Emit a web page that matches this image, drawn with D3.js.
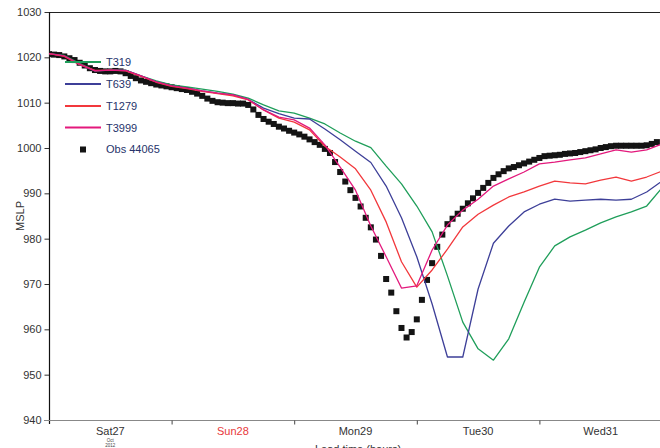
<!DOCTYPE html>
<html><head><meta charset="utf-8">
<script src="https://cdn.jsdelivr.net/npm/d3@7"></script>
<style>body{margin:0;background:#fff}svg{display:block;font-family:"Liberation Sans",Arial,sans-serif}</style>
</head><body><svg width="660" height="448"></svg>
<script>
// ---- data ----
const dayLabels = ["Sat27", "Sun28", "Mon29", "Tue30", "Wed31"];
const dayStartHours = [0, 24, 48, 72, 96, 120];
const yTicks = [940, 950, 960, 970, 980, 990, 1000, 1010, 1020, 1030];
const modelHours = [0,3,6,9,12,15,18,21,24,27,30,33,36,39,42,45,48,51,54,57,60,63,66,69,72,75,78,81,84,87,90,93,96,99,102,105,108,111,114,117,120];
const t319 = [1020.8,1020.4,1018.7,1017.0,1017.2,1017.2,1015.9,1014.8,1013.9,1013.5,1013.0,1012.5,1011.9,1011.0,1009.5,1008.2,1007.7,1006.6,1005.3,1003.3,1001.5,1000.1,996.0,992.1,987.2,981.5,971.8,961.6,955.7,953.2,957.9,966.0,973.7,978.4,980.4,981.9,983.5,984.8,985.9,987.2,991.2];
const t639 = [1020.8,1020.3,1018.4,1017.0,1017.2,1017.1,1015.9,1014.6,1013.7,1013.2,1012.6,1012.1,1011.7,1010.7,1008.8,1007.6,1006.6,1006.4,1004.2,1001.8,999.3,996.8,991.6,984.6,976.0,965.6,953.9,953.9,968.9,979.0,982.8,985.9,987.6,988.7,988.3,988.5,988.7,988.5,988.7,990.3,992.7];
const t1279 = [1020.8,1020.2,1018.4,1017.1,1017.2,1017.0,1015.8,1014.5,1013.6,1013.1,1012.5,1012.0,1011.5,1010.6,1008.4,1006.6,1005.7,1004.0,1000.4,998.0,995.4,990.7,983.7,974.9,969.3,973.1,977.7,982.6,985.4,987.4,989.2,990.3,991.6,992.7,992.3,992.1,992.9,993.6,992.7,993.6,994.9];
const t3999 = [1020.8,1020.3,1018.5,1017.0,1017.2,1017.1,1015.9,1014.6,1013.7,1013.2,1012.6,1012.1,1011.7,1010.7,1008.4,1006.8,1006.2,1004.4,1000.7,995.8,990.7,982.8,976.0,969.1,969.6,977.5,983.0,986.3,988.7,991.6,993.2,994.7,996.5,996.9,997.4,997.8,998.7,999.6,999.1,999.6,1000.9];
const obsHours = d3.range(0, 120);
const obs44065 = [1020.7,1020.6,1020.5,1020.2,1019.8,1019.4,1018.8,1018.2,1017.6,1017.2,
1017.0,1016.9,1016.9,1017.0,1016.9,1016.5,1015.9,1015.4,1014.9,1014.6,
1014.3,1014.0,1013.8,1013.6,1013.4,1013.2,1013.0,1012.8,1012.4,1012.0,
1011.5,1010.9,1010.4,1010.1,1010.0,1009.9,1009.9,1009.8,1009.8,1009.5,
1008.5,1007.3,1006.4,1005.8,1005.3,1004.7,1004.3,1003.8,1003.4,1003.0,
1002.5,1001.9,1001.3,1000.7,999.8,998.9,996.9,994.7,992.6,990.7,
989.0,987.1,984.6,982.5,979.8,976.2,971.1,968.1,964.0,960.3,
958.2,959.4,962.2,966.5,970.9,974.6,978.2,980.9,983.2,984.4,
985.5,986.6,987.8,988.9,990.1,991.2,992.3,993.4,994.2,994.9,
995.5,995.8,996.2,996.6,997.0,997.4,997.8,998.2,998.3,998.4,
998.5,998.7,998.8,998.9,999.1,999.3,999.5,999.7,1000.0,1000.2,
1000.4,1000.5,1000.5,1000.5,1000.5,1000.5,1000.5,1000.6,1000.9,1001.3];
const seriesNames = ["T319", "T639", "T1279", "T3999"];
const seriesColors = ["#1f9e5a", "#3d3f98", "#f2383c", "#e3197c"];
const obsName = "Obs 44065";

// ---- chart ----
const svg = d3.select("svg");
const x = d3.scaleLinear().domain([0, 120]).range([49, 662]);
const y = d3.scaleLinear().domain([940, 1030]).range([420, 12]);

svg.append("defs").append("clipPath").attr("id", "clip")
  .append("rect").attr("x", 49).attr("y", 12).attr("width", 611).attr("height", 408);

// top frame line
svg.append("line").attr("x1", 49).attr("x2", 660).attr("y1", 12.5).attr("y2", 12.5)
  .attr("stroke", "#222").attr("stroke-width", 1);

// y axis
const yAxis = svg.append("g").attr("transform", "translate(49.5,0)")
  .call(d3.axisLeft(y).tickValues(yTicks).tickSize(5).tickPadding(3).tickFormat(d3.format("d")));
yAxis.select(".domain").remove();
yAxis.selectAll(".tick line").attr("stroke", "#333");
yAxis.selectAll(".tick text").attr("fill", "#333").attr("font-size", 11)
  .attr("font-family", "Liberation Sans, Arial, sans-serif");
svg.append("line").attr("x1", 49.5).attr("x2", 49.5).attr("y1", 12).attr("y2", 424)
  .attr("stroke", "#111").attr("stroke-width", 1.2);

// x axis
svg.append("line").attr("x1", 44).attr("x2", 660).attr("y1", 420.5).attr("y2", 420.5)
  .attr("stroke", "#888").attr("stroke-width", 1);
const xAxis = svg.append("g").attr("transform", "translate(0,420.5)")
  .call(d3.axisBottom(x).tickValues(dayStartHours.slice(1, 5)).tickSize(4).tickFormat(""));
xAxis.select(".domain").remove();
xAxis.selectAll(".tick line").attr("stroke", "#444");

svg.append("g").selectAll("text").data(dayLabels).join("text")
  .attr("x", (d, i) => x(dayStartHours[i] + 12))
  .attr("y", 434.5)
  .attr("text-anchor", "middle")
  .attr("font-size", 11)
  .attr("fill", (d, i) => i === 1 ? "#e8383a" : "#333")
  .text(d => d);
svg.append("text").attr("x", x(12)).attr("y", 441.5).attr("text-anchor", "middle")
  .attr("font-size", 4.5).attr("fill", "#444").text("Oct");
svg.append("text").attr("x", x(12)).attr("y", 446.5).attr("text-anchor", "middle")
  .attr("font-size", 4.5).attr("fill", "#444").text("2012");
svg.append("text").attr("x", 358).attr("y", 453).attr("text-anchor", "middle")
  .attr("font-size", 11).attr("fill", "#333").text("Lead time (hours)");
svg.append("text").attr("transform", "translate(24,216) rotate(-90)")
  .attr("text-anchor", "middle").attr("font-size", 11).attr("fill", "#333").text("MSLP");

// obs
const plot = svg.append("g").attr("clip-path", "url(#clip)");
plot.append("g").selectAll("rect").data(obs44065).join("rect")
  .attr("x", (d, i) => x(obsHours[i]) - 3)
  .attr("y", d => y(d) - 3)
  .attr("width", 6).attr("height", 6)
  .attr("fill", "#141414");

// models
const allSeries = [t319, t639, t1279, t3999];
const line = d3.line().x((d, i) => x(modelHours[i])).y(d => y(d));
plot.append("g").selectAll("path").data(allSeries).join("path")
  .attr("d", d => line(d))
  .attr("fill", "none")
  .attr("stroke", (d, i) => seriesColors[i])
  .attr("stroke-width", 1.3)
  .attr("stroke-linejoin", "round");

// legend
const legendY = [62, 84, 106, 127.5];
const lg = svg.append("g");
seriesNames.forEach((n, i) => {
  lg.append("line").attr("x1", 65).attr("x2", 101).attr("y1", legendY[i]).attr("y2", legendY[i])
    .attr("stroke", seriesColors[i]).attr("stroke-width", 2);
  lg.append("text").attr("x", 106).attr("y", legendY[i] + 4).attr("font-size", 11)
    .attr("fill", "#26336b").text(n);
});
lg.append("rect").attr("x", 80).attr("y", 146.5).attr("width", 6).attr("height", 6).attr("fill", "#141414");
lg.append("text").attr("x", 106).attr("y", 153).attr("font-size", 11).attr("fill", "#26336b").text(obsName);
</script>
</body></html>
